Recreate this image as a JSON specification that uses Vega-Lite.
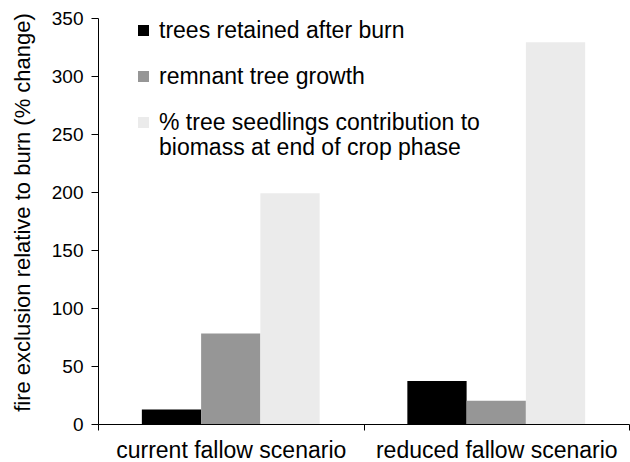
{
  "$schema": "https://vega.github.io/schema/vega-lite/v6.json",
  "width": 531,
  "height": 406,
  "autosize": "none",
  "padding": {"left": 98, "top": 18, "right": 1, "bottom": 38},
  "background": "white",
  "config": {"view": {"stroke": null}, "font": "Liberation Sans"},
  "data": {
    "values": [
      {"scenario": "current fallow scenario", "series": "trees retained after burn", "value": 12.5},
      {"scenario": "current fallow scenario", "series": "remnant tree growth", "value": 78},
      {"scenario": "current fallow scenario", "series": "% tree seedlings contribution to biomass at end of crop phase", "value": 199},
      {"scenario": "reduced fallow scenario", "series": "trees retained after burn", "value": 37},
      {"scenario": "reduced fallow scenario", "series": "remnant tree growth", "value": 20},
      {"scenario": "reduced fallow scenario", "series": "% tree seedlings contribution to biomass at end of crop phase", "value": 329}
    ]
  },
  "mark": {"type": "bar"},
  "encoding": {
    "x": {
      "field": "scenario",
      "type": "nominal",
      "sort": ["current fallow scenario", "reduced fallow scenario"],
      "scale": {"paddingInner": 0, "paddingOuter": 0},
      "axis": {
        "title": null,
        "labelAngle": 0,
        "labelLimit": 0,
        "tickBand": "extent",
        "tickSize": 6,
        "labelFontSize": 23,
        "labelPadding": 9,
        "labelColor": "#000",
        "domainColor": "#000",
        "tickColor": "#000"
      }
    },
    "xOffset": {
      "field": "series",
      "sort": ["trees retained after burn", "remnant tree growth", "% tree seedlings contribution to biomass at end of crop phase"],
      "scale": {"paddingInner": 0, "paddingOuter": 0.74}
    },
    "y": {
      "field": "value",
      "type": "quantitative",
      "scale": {"domain": [0, 350], "nice": false},
      "axis": {
        "values": [0, 50, 100, 150, 200, 250, 300, 350],
        "grid": false,
        "tickSize": 7,
        "labelPadding": 8,
        "labelFontSize": 19,
        "labelColor": "#000",
        "domainColor": "#000",
        "tickColor": "#000",
        "title": "fire exclusion relative to burn (% change)",
        "titleFontSize": 22,
        "titleFontWeight": "normal",
        "titleColor": "#000",
        "titleAngle": -90,
        "titleX": -76,
        "titleY": 194,
        "titleAlign": "center",
        "titleBaseline": "middle"
      }
    },
    "color": {
      "field": "series",
      "type": "nominal",
      "scale": {
        "domain": ["trees retained after burn", "remnant tree growth", "% tree seedlings contribution to biomass at end of crop phase"],
        "range": ["#000000", "#969696", "#ebebeb"]
      },
      "legend": {
        "title": null,
        "orient": "none",
        "legendX": 34,
        "legendY": 1,
        "symbolType": "square",
        "symbolSize": 121,
        "symbolStrokeWidth": 0,
        "labelFontSize": 23,
        "labelColor": "#000",
        "labelOffset": 4,
        "labelLimit": 0,
        "rowPadding": 22,
        "labelExpr": "datum.label == '% tree seedlings contribution to biomass at end of crop phase' ? ['% tree seedlings contribution to', 'biomass at end of crop phase'] : datum.label"
      }
    }
  }
}
